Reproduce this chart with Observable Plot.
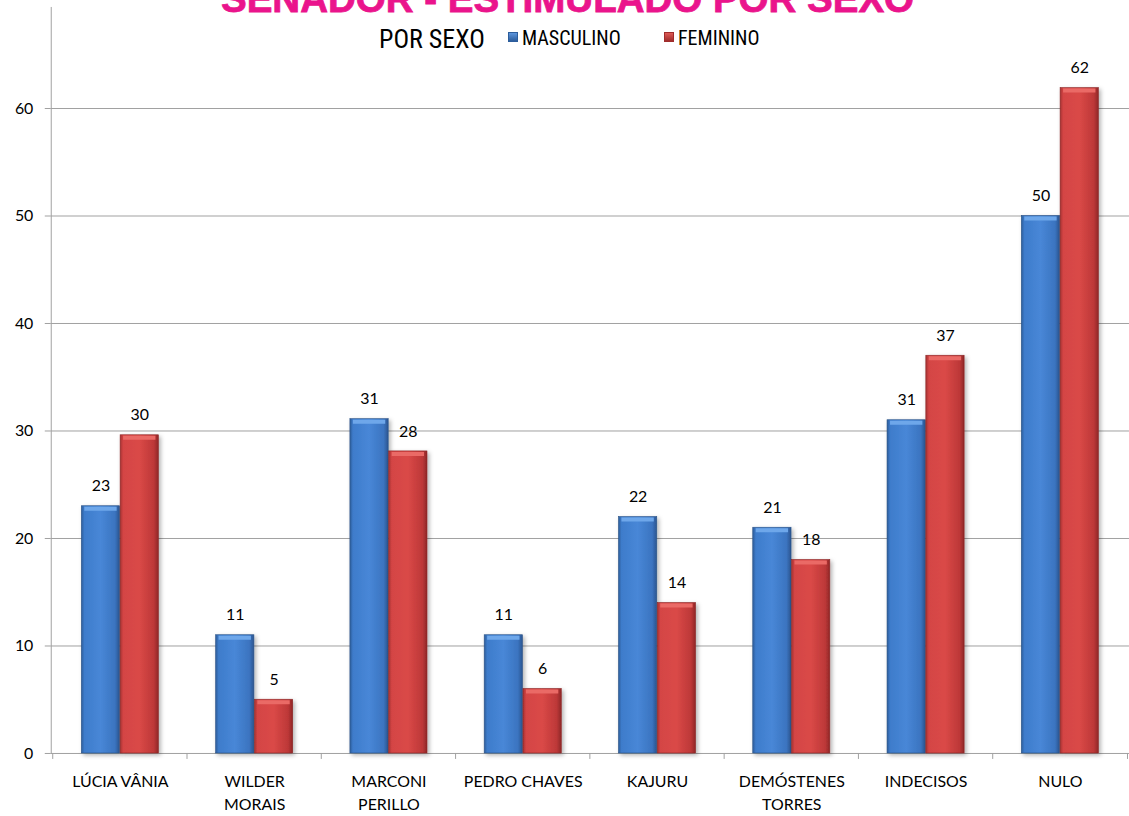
<!DOCTYPE html>
<html><head><meta charset="utf-8">
<script src="https://cdn.jsdelivr.net/npm/d3@7"></script>
<script src="https://cdn.jsdelivr.net/npm/@observablehq/plot@0.6"></script>
<style>
body{margin:0;background:#fff;overflow:hidden;}
#wrap{position:relative;width:1129px;height:816px;overflow:hidden;}
#title{position:absolute;left:0;width:1135px;text-align:center;top:-20px;line-height:38px;font-family:"Liberation Sans",Arial,sans-serif;font-weight:bold;font-size:38.5px;color:#ea148c;white-space:nowrap;-webkit-text-stroke:0.8px #ea148c;}
#legend{position:absolute;top:24px;left:379px;font-family:"Roboto Condensed","Liberation Sans Narrow",sans-serif;font-weight:normal;color:#000;white-space:nowrap;}
#legend span{position:absolute;top:0;line-height:1;}
.sw{display:inline-block;width:10px;height:10px;position:absolute;}
</style>
</head><body>
<div id="wrap">
<div id="chart"></div>
<div id="title">SENADOR - ESTIMULADO POR SEXO</div>
<div id="legend"></div>
</div>
<script>
const categories = ["LÚCIA VÂNIA","WILDER MORAIS","MARCONI PERILLO","PEDRO CHAVES","KAJURU","DEMÓSTENES TORRES","INDECISOS","NULO"];
const tickLabels = ["LÚCIA VÂNIA","WILDER\nMORAIS","MARCONI\nPERILLO","PEDRO CHAVES","KAJURU","DEMÓSTENES\nTORRES","INDECISOS","NULO"];
const masculino = [23, 11, 31.1, 11, 22, 21, 31, 50];
const feminino = [29.6, 5, 28.1, 6, 14, 18, 37, 61.9];
const yTicks = [0, 10, 20, 30, 40, 50, 60];
const seriesNames = ["MASCULINO", "FEMININO"];
const legendTitle = "POR SEXO";

const rows = categories.map((c, i) => ({cat: c, m: masculino[i], f: feminino[i]}));
const labelOf = new Map(categories.map((c, i) => [c, tickLabels[i]]));

const W = 1135, H = 816, ML = 51, MR = 0, MT = 7, MB = 59;
const bw = (W - ML - MR) / categories.length;
const barW = 39;
const outer = (bw - 2 * barW) / 2;
const gridColor = "#a0a0a0";

const boundaryTicks = (index, scales, values, dims) => {
  const g = d3.create("svg:g");
  const x = scales.x, y0 = scales.y(0);
  const xs = categories.map(c => x(c));
  xs.push(x(categories[categories.length - 1]) + bw);
  for (const xv of xs) {
    g.append("line").attr("x1", xv).attr("x2", xv).attr("y1", y0).attr("y2", y0 + 6)
      .attr("stroke", gridColor);
  }
  return g.node();
};

const chart = Plot.plot({
  width: W, height: H, marginLeft: ML, marginRight: MR, marginTop: MT, marginBottom: MB,
  style: {fontFamily: "Lato, sans-serif", fontWeight: 400, color: "#000", background: "#fff"},
  x: {domain: categories, paddingInner: 0, paddingOuter: 0, axis: null},
  y: {domain: [0, 69.4], axis: null},
  marks: [
    Plot.gridY(yTicks.slice(1), {stroke: gridColor, strokeOpacity: 1}),
    Plot.axisY({ticks: yTicks, tickSize: 6, tickPadding: 12, stroke: gridColor, fontSize: 16, fill: "#000", label: null}),
    Plot.ruleY([0], {stroke: gridColor}),
    Plot.frame({anchor: "left", stroke: gridColor}),
    boundaryTicks,
    Plot.barY(rows, {x: "cat", y: "m", fill: "url(#gBlue)", insetLeft: outer, insetRight: bw / 2, stroke: "#2a5287", strokeWidth: 0.6}),
    Plot.barY(rows, {x: "cat", y: "f", fill: "url(#gRed)", insetLeft: bw / 2, insetRight: outer, stroke: "#8a2626", strokeWidth: 0.6}),
    Plot.tickY(rows, {x: "cat", y: "m", stroke: "#6ea7ea", strokeWidth: 4, dy: 2.5, insetLeft: outer + 3, insetRight: bw / 2 + 3}),
    Plot.tickY(rows, {x: "cat", y: "f", stroke: "#ea6a66", strokeWidth: 4, dy: 2.5, insetLeft: bw / 2 + 3, insetRight: outer + 3}),
    Plot.text(rows, {x: "cat", y: "m", text: d => d3.format(".0f")(d.m), dx: -barW / 2, dy: -20, fontSize: 16, fill: "#000"}),
    Plot.text(rows, {x: "cat", y: "f", text: d => d3.format(".0f")(d.f), dx: barW / 2, dy: -20, fontSize: 16, fill: "#000"}),
    Plot.axisX({tickSize: 0, tickPadding: 18, tickFormat: d => labelOf.get(d), fontSize: 16, lineHeight: 1.42, fill: "#000", label: null})
  ]
});

const svg = d3.select(chart);
const defs = svg.insert("defs", ":first-child");
function grad(id, stops) {
  const lg = defs.append("linearGradient").attr("id", id).attr("x1", "0").attr("x2", "1").attr("y1", "0").attr("y2", "0");
  for (const [o, c] of stops) lg.append("stop").attr("offset", o).attr("stop-color", c);
}
grad("gBlue", [["0", "#2d5c99"], ["0.08", "#3e7ccb"], ["0.5", "#4887d7"], ["0.88", "#3b74c0"], ["1", "#2b5590"]]);
grad("gRed", [["0", "#a53131"], ["0.08", "#d44545"], ["0.5", "#da4947"], ["0.88", "#bd3838"], ["1", "#8f2727"]]);
const f = defs.append("filter").attr("id", "shadow").attr("x", "-20%").attr("y", "-5%").attr("width", "150%").attr("height", "115%");
f.append("feDropShadow").attr("dx", 2).attr("dy", 2).attr("stdDeviation", 2).attr("flood-color", "#000").attr("flood-opacity", 0.3);
svg.selectAll("g[aria-label=bar]").attr("filter", "url(#shadow)");

document.getElementById("chart").appendChild(chart);

// legend
const leg = d3.select("#legend");
leg.append("span").style("left", "0px").style("top", "2px").style("font-size", "26px").text(legendTitle);
const swX = [129, 285], txX = [143, 299];
const swColors = [["#5d95dc", "#2c5d9c"], ["#dd5a55", "#a02c2c"]];
seriesNames.forEach((s, i) => {
  leg.append("span").attr("class", "sw").style("left", swX[i] + "px").style("top", "8px")
    .style("background", `linear-gradient(${swColors[i][0]}, ${swColors[i][1]})`)
    .style("border", "1px solid " + swColors[i][1]).style("box-sizing", "border-box");
  leg.append("span").style("left", txX[i] + "px").style("top", "4px").style("font-size", "20px").text(s);
});
</script>
</body></html>
